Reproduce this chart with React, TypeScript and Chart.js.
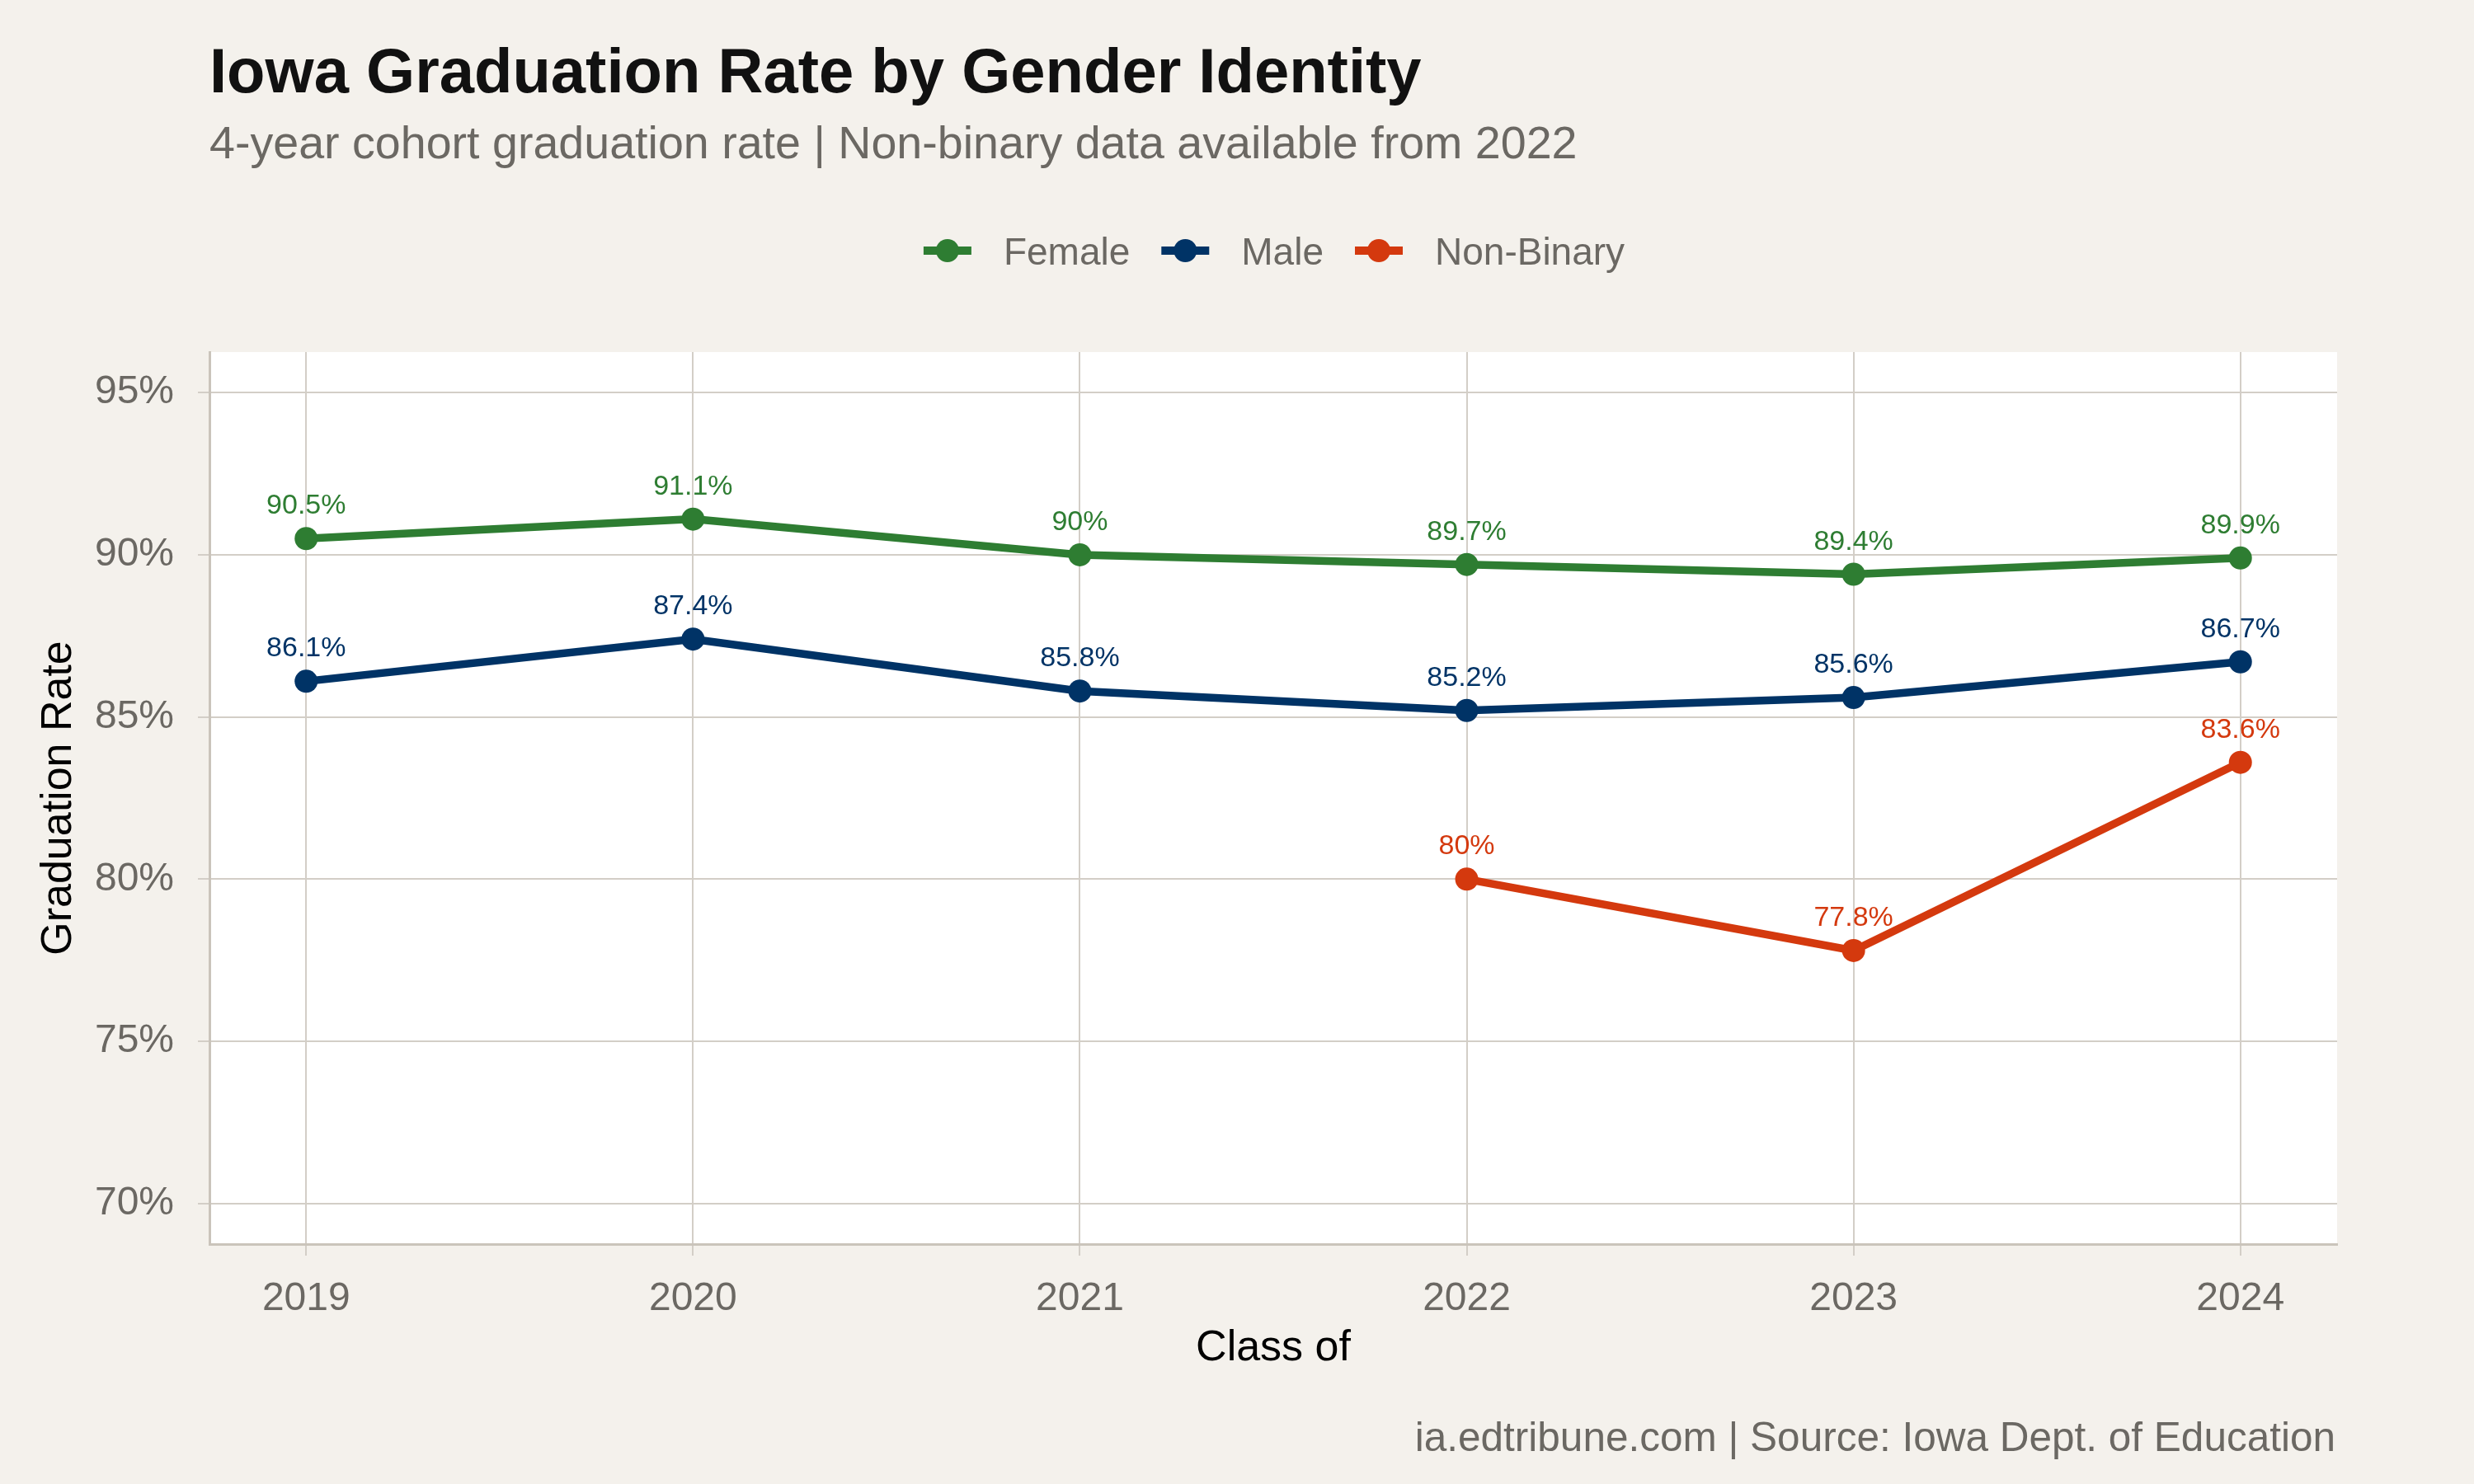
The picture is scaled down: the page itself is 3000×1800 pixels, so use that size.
import React, { useEffect, useRef } from 'react';
import { Chart, registerables } from 'chart.js';

Chart.register(...registerables);

// Class years and 4-year cohort graduation rates (%)
const years = [2019, 2020, 2021, 2022, 2023, 2024];
const femaleRates = [90.5, 91.1, 90.0, 89.7, 89.4, 89.9];
const maleRates = [86.1, 87.4, 85.8, 85.2, 85.6, 86.7];
const nonBinaryRates: (number | null)[] = [null, null, null, 80.0, 77.8, 83.6];

const seriesNames = ['Female', 'Male', 'Non-Binary'];
const seriesColors = ['#2e7d32', '#003366', '#d4390e'];
const yTickValues = [70, 75, 80, 85, 90, 95];

const titleText = 'Iowa Graduation Rate by Gender Identity';
const subtitleText = '4-year cohort graduation rate | Non-binary data available from 2022';
const captionText = 'ia.edtribune.com | Source: Iowa Dept. of Education';
const xAxisTitle = 'Class of';
const yAxisTitle = 'Graduation Rate';

const FONT = '"Liberation Sans", Arial, Helvetica, sans-serif';
const PAGE_BG = '#f4f1ec';
const GRID = '#d3cec7';
const AXIS = '#cac4bb';
const GRAY_TEXT = '#6b6863';

const W = 3000;
const H = 1800;

const fmtPct = (v: number) => (Number.isInteger(v) ? `${v}%` : `${v.toFixed(1)}%`);

const toPoints = (vals: (number | null)[]) =>
  years
    .map((x, i) => ({ x, y: vals[i] }))
    .filter((p) => p.y !== null) as { x: number; y: number }[];

// Page background and white plotting panel
const backgroundPlugin = {
  id: 'pageBackground',
  beforeDraw(chart: any) {
    const { ctx, chartArea } = chart;
    ctx.save();
    ctx.fillStyle = PAGE_BG;
    ctx.fillRect(0, 0, chart.width, chart.height);
    ctx.fillStyle = '#ffffff';
    ctx.fillRect(chartArea.left, chartArea.top, chartArea.right - chartArea.left, chartArea.bottom - chartArea.top);
    ctx.restore();
  },
};

// Value labels above each point
const valueLabelPlugin = {
  id: 'valueLabels',
  afterDatasetsDraw(chart: any) {
    const { ctx } = chart;
    ctx.save();
    ctx.font = `34px ${FONT}`;
    ctx.textAlign = 'center';
    ctx.textBaseline = 'alphabetic';
    chart.data.datasets.forEach((ds: any, di: number) => {
      const meta = chart.getDatasetMeta(di);
      ctx.fillStyle = ds.borderColor;
      meta.data.forEach((el: any, i: number) => {
        const v = ds.data[i].y;
        ctx.fillText(fmtPct(v), el.x, el.y - 30);
      });
    });
    ctx.restore();
  },
};

// Title, subtitle, legend and caption
const annotationPlugin = {
  id: 'annotations',
  afterDraw(chart: any) {
    const { ctx, chartArea } = chart;
    ctx.save();
    ctx.textBaseline = 'alphabetic';
    ctx.textAlign = 'left';

    ctx.fillStyle = '#111111';
    ctx.font = `bold 76px ${FONT}`;
    ctx.fillText(titleText, chartArea.left, 112);

    ctx.fillStyle = GRAY_TEXT;
    ctx.font = `55.6px ${FONT}`;
    ctx.fillText(subtitleText, chartArea.left, 192);

    // legend row
    ctx.font = `46px ${FONT}`;
    const markerW = 58;
    const textGap = 39;
    const itemGap = 38;
    const widths = seriesNames.map((n) => ctx.measureText(n).width);
    const total =
      widths.reduce((a, w) => a + markerW + textGap + w, 0) + itemGap * (seriesNames.length - 1);
    let x = (chartArea.left + chartArea.right) / 2 + 1 - total / 2;
    const cy = 304;
    seriesNames.forEach((name, i) => {
      ctx.strokeStyle = seriesColors[i];
      ctx.lineWidth = 10;
      ctx.lineCap = 'butt';
      ctx.beginPath();
      ctx.moveTo(x, cy);
      ctx.lineTo(x + markerW, cy);
      ctx.stroke();
      ctx.fillStyle = seriesColors[i];
      ctx.beginPath();
      ctx.arc(x + markerW / 2, cy, 14, 0, Math.PI * 2);
      ctx.fill();
      ctx.fillStyle = GRAY_TEXT;
      ctx.fillText(name, x + markerW + textGap, 321);
      x += markerW + textGap + widths[i] + itemGap;
    });

    ctx.textAlign = 'right';
    ctx.font = `49.5px ${FONT}`;
    ctx.fillStyle = GRAY_TEXT;
    ctx.fillText(captionText, chartArea.right - 2, 1760);
    ctx.restore();
  },
};

export default function App() {
  const canvasRef = useRef<HTMLCanvasElement | null>(null);

  useEffect(() => {
    if (!canvasRef.current) return;
    const rateSets = [femaleRates, maleRates, nonBinaryRates];
    const chart = new Chart(canvasRef.current, {
      type: 'line',
      data: {
        datasets: seriesNames.map((name, i) => ({
          label: name,
          data: toPoints(rateSets[i]),
          borderColor: seriesColors[i],
          backgroundColor: seriesColors[i],
          borderWidth: 9.5,
          pointRadius: 14,
          pointHoverRadius: 14,
          pointBorderWidth: 0,
          pointBackgroundColor: seriesColors[i],
          tension: 0,
          fill: false,
        })),
      },
      options: {
        responsive: false,
        animation: false,
        devicePixelRatio: 1,
        layout: { padding: { top: 427, right: 166, bottom: 0, left: 0 } },
        plugins: {
          legend: { display: false },
          title: { display: false },
          tooltip: { enabled: false },
        },
        events: [],
        scales: {
          x: {
            type: 'linear',
            min: 2018.75,
            max: 2024.25,
            afterBuildTicks: (scale: any) => {
              scale.ticks = years.map((v) => ({ value: v }));
            },
            afterFit: (scale: any) => {
              scale.height = 291;
            },
            ticks: {
              callback: (v: any) => String(v),
              font: { family: FONT, size: 48 },
              color: GRAY_TEXT,
              padding: 24,
              maxRotation: 0,
              autoSkip: false,
            },
            grid: { color: GRID, lineWidth: 2, tickLength: 14, drawTicks: true },
            border: { color: AXIS, width: 3 },
            title: {
              display: true,
              text: xAxisTitle,
              font: { family: FONT, size: 52 },
              color: '#000000',
              padding: { top: 0, bottom: 133 },
            },
          },
          y: {
            type: 'linear',
            min: 68.75,
            max: 96.25,
            afterBuildTicks: (scale: any) => {
              scale.ticks = yTickValues.map((v) => ({ value: v }));
            },
            afterFit: (scale: any) => {
              scale.width = 254;
            },
            ticks: {
              callback: (v: any) => `${v}%`,
              font: { family: FONT, size: 48 },
              color: GRAY_TEXT,
              padding: 29,
              autoSkip: false,
            },
            grid: { color: GRID, lineWidth: 2, tickLength: 14, drawTicks: true },
            border: { color: AXIS, width: 3 },
            title: {
              display: true,
              text: yAxisTitle,
              font: { family: FONT, size: 52 },
              color: '#000000',
              padding: { top: 40, bottom: 0 },
            },
          },
        },
      },
      plugins: [backgroundPlugin, valueLabelPlugin, annotationPlugin],
    });
    return () => chart.destroy();
  }, []);

  return (
    <div style={{ position: 'absolute', left: 0, top: 0, width: W, height: H, background: PAGE_BG }}>
      <canvas ref={canvasRef} width={W} height={H} style={{ display: 'block', width: W, height: H }} />
    </div>
  );
}
